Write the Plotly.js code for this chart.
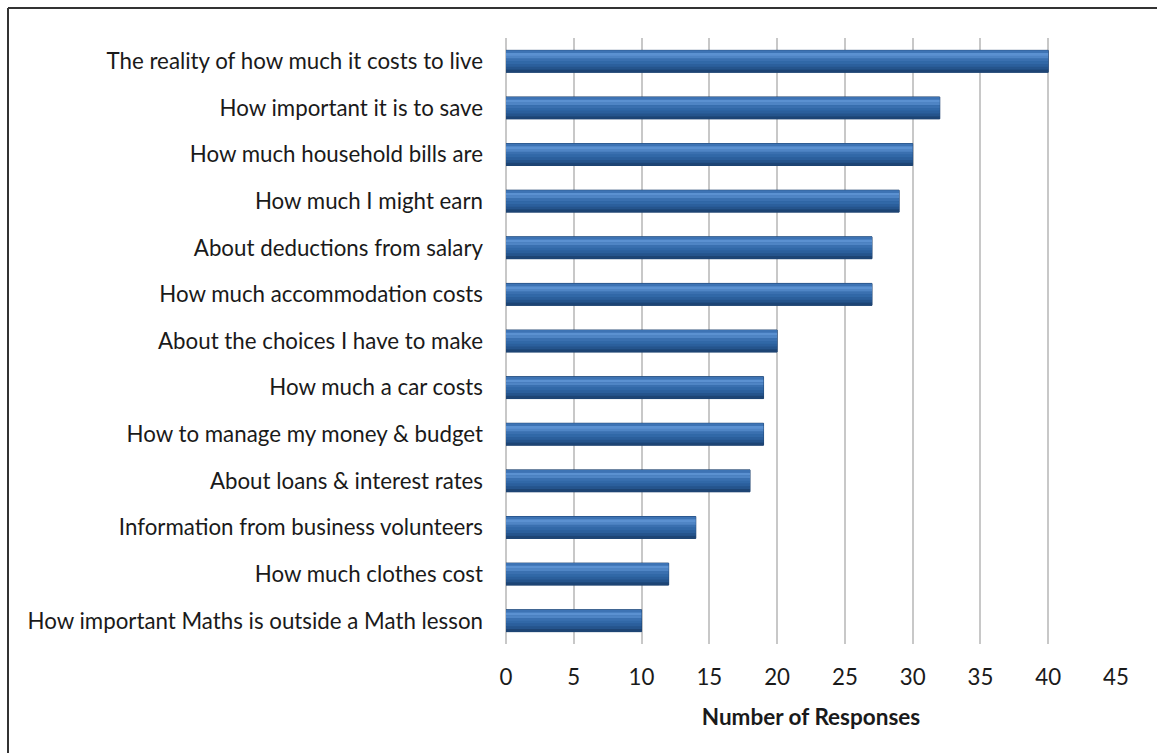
<!DOCTYPE html>
<html>
<head>
<meta charset="utf-8">
<script src="https://cdn.plot.ly/plotly-3.0.1.min.js"></script>
<style>html,body{margin:0;padding:0;background:#fff;}#chart{width:1157px;height:753px;}</style>
</head>
<body>
<div id="chart"></div>
<script>
const categories = [
  "The reality of how much it costs to live",
  "How important it is to save",
  "How much household bills are",
  "How much I might earn",
  "About deductions from salary",
  "How much accommodation costs",
  "About the choices I have to make",
  "How much a car costs",
  "How to manage my money & budget",
  "About loans & interest rates",
  "Information from business volunteers",
  "How much clothes cost",
  "How important Maths is outside a Math lesson"
];
const responses = [40, 32, 30, 29, 27, 27, 20, 19, 19, 18, 14, 12, 10];
const xTicks = [0, 5, 10, 15, 20, 25, 30, 35, 40, 45];
const xTitle = "Number of Responses";

const FONT = "Lato, 'Open Sans', sans-serif";
const FS = 22.3;

// vertical gradient strips of each bar, top to bottom
const stripColors = ['#3d73b4', '#5b91d1', '#4f85c5', '#3a70b0', '#3168a7', '#2b5f9c', '#25548c', '#1d4474'];
const barWidth = 0.47;
const stripW = barWidth / stripColors.length;

const traces = [{
  type: 'bar', orientation: 'h', y: categories, x: responses,
  width: barWidth, offset: -barWidth / 2,
  marker: {color: '#2a5e9c', line: {color: '#1b3f6c', width: 1}},
  hoverinfo: 'x+y', showlegend: false
}];
stripColors.forEach((c, i) => {
  traces.push({
    type: 'bar', orientation: 'h', y: categories, x: responses,
    width: stripW + 0.004, offset: -barWidth / 2 + i * stripW,
    marker: {color: c, line: {width: 0}},
    hoverinfo: 'skip', showlegend: false
  });
});

const layout = {
  width: 1157, height: 753,
  margin: {l: 506, r: 41, t: 38, b: 109},
  paper_bgcolor: '#ffffff', plot_bgcolor: '#ffffff',
  barmode: 'overlay',
  font: {family: FONT, size: FS, color: '#1a1a1a'},
  xaxis: {
    range: [0, 45], tickvals: xTicks, ticktext: xTicks.map(String),
    showgrid: true, gridcolor: '#c8c8c8', gridwidth: 2,
    zeroline: true, zerolinecolor: '#c8c8c8', zerolinewidth: 2,
    showline: false, ticks: '', ticklabelstandoff: 18,
    tickfont: {family: FONT, size: FS, color: '#1a1a1a'},
    title: {text: '<b>' + xTitle + '</b>', font: {family: FONT, size: 22.5, color: '#1a1a1a'}, standoff: 19}
  },
  yaxis: {
    type: 'category', autorange: 'reversed',
    showgrid: false, zeroline: false, showline: false, ticks: '',
    ticklabelstandoff: 22,
    tickfont: {family: FONT, size: FS, color: '#1a1a1a'}
  },
  shapes: [
    {type: 'line', xref: 'paper', yref: 'paper',
     x0: -498/610, x1: 651/610, y0: 1 + 30/606, y1: 1 + 30/606,
     line: {color: '#333333', width: 2}},
    {type: 'line', xref: 'paper', yref: 'paper',
     x0: -498/610, x1: -498/610, y0: 1 + 30/606, y1: -120/606,
     line: {color: '#333333', width: 2}}
  ]
};

Plotly.newPlot('chart', traces, layout, {displayModeBar: false, staticPlot: true});
</script>
</body>
</html>
